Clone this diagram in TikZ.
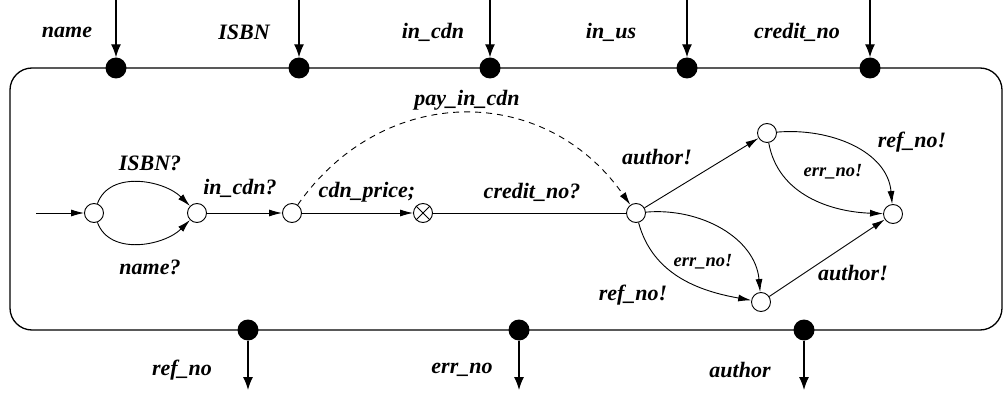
\documentclass[tikz,border=0pt]{standalone}
\usepackage{fontspec}
\setmainfont{Liberation Serif}
\usetikzlibrary{arrows.meta}
\begin{document}
\begin{tikzpicture}[x=1pt,y=1pt,
  state/.style={circle,draw,line width=0.9pt,minimum size=19pt,inner sep=0pt,fill=white},
  port/.style={circle,fill=black,minimum size=21pt,inner sep=0pt},
  lbl/.style={font=\fontsize{22}{26}\selectfont\bfseries\itshape,inner sep=0pt},
  slbl/.style={font=\fontsize{18.5}{22}\selectfont\bfseries\itshape,inner sep=0pt},
  trans/.style={line width=0.9pt,-{Latex[length=13pt,width=7pt]}},
  plain/.style={line width=0.9pt},
  portarrow/.style={line width=1.3pt,-{Latex[length=13pt,width=10pt]}},
  box/.style={line width=1.3pt,rounded corners=22pt},
]
\useasboundingbox (0,0) rectangle (1003,394);
% component box
\draw[box] (10,64) rectangle (1002,326);
% input ports
\node[port] (p1) at (116,326) {};
\node[port] (p2) at (299,326) {};
\node[port] (p3) at (490,326) {};
\node[port] (p4) at (687,326) {};
\node[port] (p5) at (870,326) {};
\coordinate (i1) at (116,394);
\coordinate (i2) at (299,394);
\coordinate (i3) at (490,394);
\coordinate (i4) at (687,394);
\coordinate (i5) at (870,394);
\foreach \k in {1,...,5} {\draw[portarrow] (i\k) -- (p\k);}
\node[lbl] (ln1) at (67,362) {name};
\node[lbl] (ln2) at (244,362) {ISBN};
\node[lbl] (ln3) at (433,362) {in\_cdn};
\node[lbl] (ln4) at (611,362) {in\_us};
\node[lbl] (ln5) at (797,362) {credit\_no};
% output ports
\node[port] (q1) at (248,64) {};
\node[port] (q2) at (519,64) {};
\node[port] (q3) at (804,64) {};
\coordinate (o1) at (248,4);
\coordinate (o2) at (519,4);
\coordinate (o3) at (804,4);
\foreach \k in {1,2,3} {\draw[portarrow] (q\k) -- (o\k);}
\node[lbl] (lo1) at (182,24) {ref\_no};
\node[lbl] (lo2) at (462,24) {err\_no};
\node[lbl] (lo3) at (740,24) {author};
% states
\node[state] (s0) at (94,181) {};
\node[state] (s1) at (197,181) {};
\node[state] (s2) at (292,181) {};
\node[state] (s3) at (423,181) {};
\draw[plain] (s3.45) -- (s3.225) (s3.135) -- (s3.-45);
\node[state] (s4) at (636,181) {};
\node[state] (s5) at (767,261) {};
\node[state] (s6) at (893,180) {};
\node[state] (s7) at (761,92) {};
\coordinate (init) at (36,181);
% transitions
\draw[trans] (init) -- (s0);
\draw[trans] (s0) to[out=70,in=135] (s1);
\draw[trans] (s0) to[out=-70,in=-135] (s1);
\draw[trans] (s1) -- (s2);
\draw[trans] (s2) -- (s3);
\draw[plain] (s3) -- (s4);
\draw[trans,dash pattern=on 6pt off 5pt] (s2) to[out=55,in=125,looseness=1.15] (s4);
\draw[trans] (s4) -- (s5);
\draw[trans] (s4) to[out=-75,in=170] (s7);
\draw[trans] (s4) to[out=5,in=95] (s7);
\draw[trans] (s5) to[out=5,in=95] (s6);
\draw[trans] (s5) to[out=-80,in=178] (s6);
\draw[trans] (s7) -- (s6);
% labels
\node[lbl] (t1) at (150,231) {ISBN?};
\node[lbl] (t2) at (150,127) {name?};
\node[lbl] (t3) at (240,206) {in\_cdn?};
\node[lbl] (t4) at (367,202) {cdn\_price;};
\node[lbl] (t5) at (532,202) {credit\_no?};
\node[lbl] (t6) at (467,294) {pay\_in\_cdn};
\node[lbl] (t7) at (657,237) {author!};
\node[lbl] (t8) at (633,99) {ref\_no!};
\node[slbl] (t9) at (703,132) {err\_no!};
\node[lbl] (t10) at (912,252) {ref\_no!};
\node[slbl] (t11) at (833,222) {err\_no!};
\node[lbl] (t12) at (853,121) {author!};
\end{tikzpicture}
\end{document}
